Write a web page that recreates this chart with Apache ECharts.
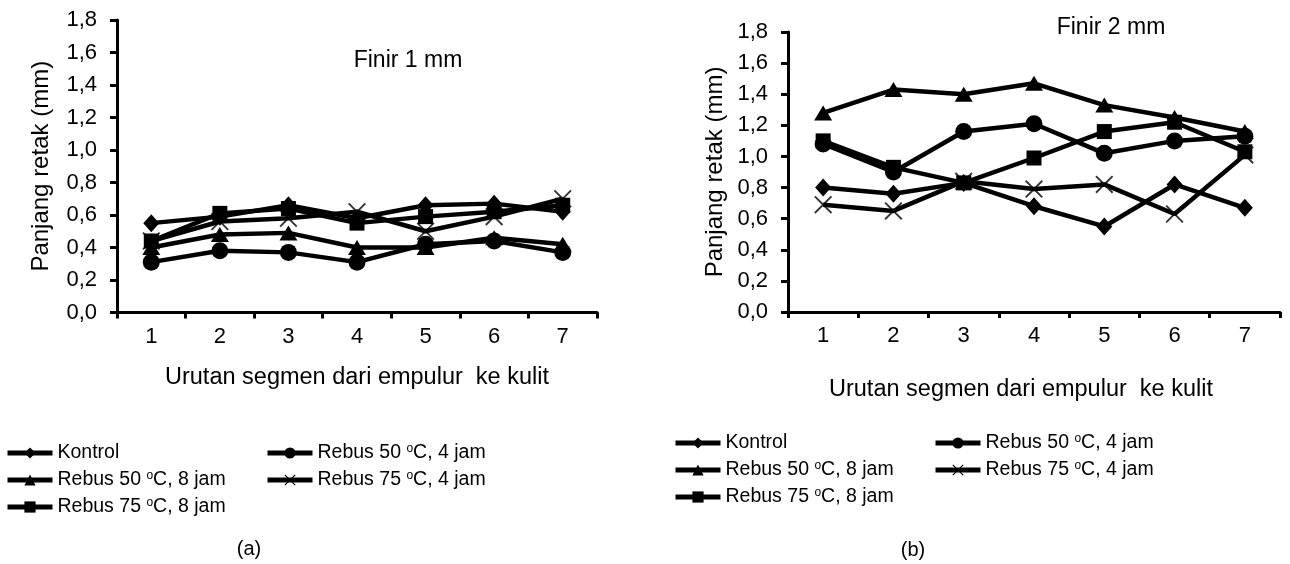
<!DOCTYPE html>
<html>
<head>
<meta charset="utf-8">
<title>Panjang retak finir</title>
<script src="https://cdn.jsdelivr.net/npm/echarts@6.0.0/dist/echarts.min.js"></script>
<style>
  html, body { margin: 0; padding: 0; background: #fff; }
  #main { width: 1290px; height: 564px; }
</style>
</head>
<body>
<div id="main"></div>
<script>
// kategori sumbu x (urutan segmen)
var categories = ['1', '2', '3', '4', '5', '6', '7']
var yTickLabels = ['0,0', '0,2', '0,4', '0,6', '0,8', '1,0', '1,2', '1,4', '1,6', '1,8']
var seriesNames = ['Kontrol', 'Rebus 50 °C, 4 jam', 'Rebus 50 °C, 8 jam', 'Rebus 75 °C, 4 jam', 'Rebus 75 °C, 8 jam']

// Finir 1 mm
var kontrol1 = [0.55, 0.59, 0.66, 0.58, 0.66, 0.67, 0.62]
var rebus50jam4_1 = [0.31, 0.38, 0.37, 0.31, 0.42, 0.44, 0.37]
var rebus50jam8_1 = [0.40, 0.48, 0.49, 0.40, 0.40, 0.46, 0.42]
var rebus75jam4_1 = [0.44, 0.56, 0.58, 0.62, 0.50, 0.59, 0.70]
var rebus75jam8_1 = [0.44, 0.61, 0.64, 0.55, 0.59, 0.62, 0.66]

// Finir 2 mm
var kontrol2 = [0.80, 0.76, 0.83, 0.68, 0.55, 0.82, 0.67]
var rebus50jam4_2 = [1.08, 0.90, 1.16, 1.21, 1.02, 1.10, 1.13]
var rebus50jam8_2 = [1.28, 1.43, 1.40, 1.47, 1.33, 1.25, 1.16]
var rebus75jam4_2 = [0.69, 0.65, 0.84, 0.79, 0.82, 0.63, 1.01]
var rebus75jam8_2 = [1.10, 0.93, 0.83, 0.99, 1.16, 1.22, 1.03]

var FONT = 'Liberation Sans, Arial, sans-serif'
var crossPath = 'path://M1.5,0 L10,8.5 L18.5,0 L20,1.5 L11.5,10 L20,18.5 L18.5,20 L10,11.5 L1.5,20 L0,18.5 L8.5,10 L0,1.5 Z'

function lineSeries (name, idx, data, symbol, size, extra) {
  var s = {
    name: name,
    type: 'line',
    xAxisIndex: idx,
    yAxisIndex: idx,
    data: data,
    symbol: symbol,
    symbolSize: size,
    showSymbol: true,
    animation: false,
    lineStyle: { color: '#000', width: 4.5 },
    itemStyle: { color: '#000' }
  }
  return Object.assign(s, extra || {})
}

// satu set lima seri untuk satu grafik
function makeSeries (idx, k, r504, r508, r754, r758) {
  return [
    lineSeries(seriesNames[0], idx, k, 'diamond', [16, 18]),
    lineSeries(seriesNames[1], idx, r504, 'circle', 17),
    lineSeries(seriesNames[2], idx, r508, 'triangle', [18, 15]),
    lineSeries(seriesNames[3], idx, r754, crossPath, 18, { showSymbol: false }),
    // kotak putih di belakang tanda x (celah garis seperti di Excel)
    {
      name: '_gap' + idx, type: 'scatter', xAxisIndex: idx, yAxisIndex: idx, data: r754,
      symbol: 'rect', symbolSize: 18, itemStyle: { color: '#fff' }, silent: true, animation: false
    },
    {
      name: '_x' + idx, type: 'scatter', xAxisIndex: idx, yAxisIndex: idx, data: r754,
      symbol: crossPath, symbolSize: 18, itemStyle: { color: '#000' }, silent: true, animation: false
    },
    lineSeries(seriesNames[4], idx, r758, 'rect', 15)
  ]
}

function xAxis (idx, nameGap, namePad) {
  return {
    type: 'category',
    gridIndex: idx,
    data: categories,
    boundaryGap: true,
    name: 'Urutan segmen dari empulur  ke kulit',
    nameLocation: 'middle',
    nameGap: nameGap,
    nameTextStyle: { fontFamily: FONT, fontSize: 23.5, color: '#000', padding: namePad },
    axisLine: { lineStyle: { color: '#000', width: 3 } },
    axisTick: { show: true, length: 6, lineStyle: { color: '#000', width: 3 } },
    axisLabel: { fontFamily: FONT, fontSize: 22, color: '#000', margin: 13, interval: 0 },
    splitLine: { show: false }
  }
}

function yAxis (idx, nameGap) {
  return {
    type: 'value',
    gridIndex: idx,
    min: 0,
    max: 1.8,
    interval: 0.2,
    name: 'Panjang retak (mm)',
    nameLocation: 'middle',
    nameGap: nameGap,
    nameTextStyle: { fontFamily: FONT, fontSize: 24, color: '#000' },
    axisLine: { show: true, lineStyle: { color: '#000', width: 3 } },
    axisTick: { show: true, length: 7, lineStyle: { color: '#000', width: 3 } },
    axisLabel: {
      fontFamily: FONT, fontSize: 22, color: '#000', margin: 20,
      formatter: function (v) { return yTickLabels[Math.round(v / 0.2)] }
    },
    splitLine: { show: false }
  }
}

function legend (left, top, names) {
  return {
    orient: 'vertical',
    left: left,
    top: top,
    data: names,
    selectedMode: false,
    itemWidth: 45,
    itemHeight: 14,
    itemGap: 7,
    padding: 0,
    lineStyle: { color: '#000', width: 5 },
    formatter: function (n) { return n.replace('°', '{sup|o}') },
    textStyle: {
      fontFamily: FONT, fontSize: 19.5, color: '#000', lineHeight: 20,
      rich: {
        sup: { fontFamily: FONT, fontSize: 12, color: '#000', lineHeight: 4, verticalAlign: 'top' }
      }
    }
  }
}

function label (text, x, y, size) {
  return {
    type: 'text', x: x, y: y,
    style: { text: text, fontFamily: FONT, fontSize: size, fill: '#000', align: 'center', verticalAlign: 'middle' }
  }
}

var chart = echarts.init(document.getElementById('main'), null, { renderer: 'canvas' })
var option = {
  backgroundColor: '#fff',
  animation: false,
  grid: [
    { left: 117, top: 20, width: 480, height: 292.5, outerBoundsMode: 'none' },
    { left: 788, top: 32, width: 492, height: 280, outerBoundsMode: 'none' }
  ],
  xAxis: [xAxis(0, 53, [0, 0, 0, 0]), xAxis(1, 66, [0, 26, 0, 0])],
  yAxis: [yAxis(0, 64), yAxis(1, 61)],
  legend: [
    legend(5, 443, [seriesNames[0], seriesNames[2], seriesNames[4]]),
    legend(265, 443, [seriesNames[1], seriesNames[3]]),
    legend(673, 433, [seriesNames[0], seriesNames[2], seriesNames[4]]),
    legend(933, 433, [seriesNames[1], seriesNames[3]])
  ],
  graphic: [
    label('Finir 1 mm', 408, 61, 23),
    label('Finir 2 mm', 1111, 28, 23),
    label('(a)', 249, 549, 20),
    label('(b)', 913, 550, 20)
  ],
  series: makeSeries(0, kontrol1, rebus50jam4_1, rebus50jam8_1, rebus75jam4_1, rebus75jam8_1)
    .concat(makeSeries(1, kontrol2, rebus50jam4_2, rebus50jam8_2, rebus75jam4_2, rebus75jam8_2))
}
chart.setOption(option)
</script>
</body>
</html>
